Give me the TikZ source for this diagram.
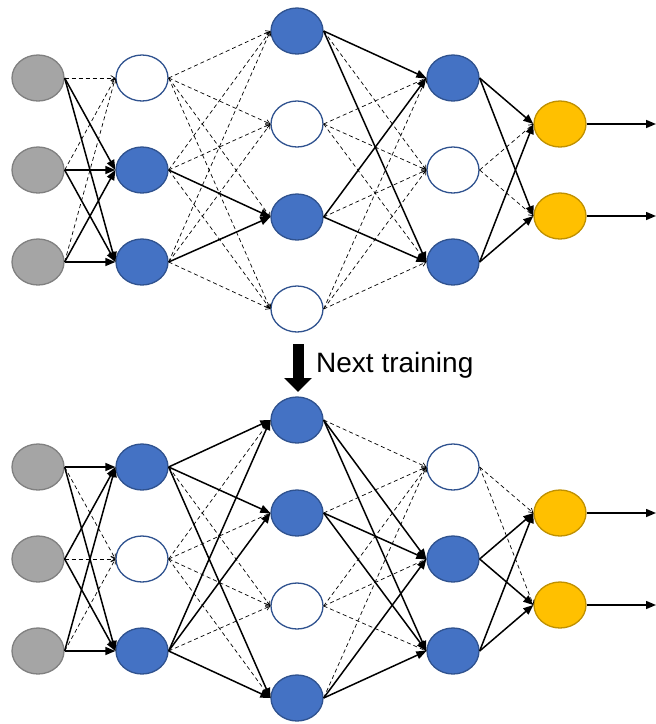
\documentclass[tikz,border=0pt]{standalone}
\usepackage{fontspec}
\setmainfont{Liberation Sans}
\usetikzlibrary{shapes.geometric,arrows.meta}
\definecolor{gfill}{HTML}{A5A5A5}
\definecolor{gline}{HTML}{808080}
\definecolor{bfill}{HTML}{4472C4}
\definecolor{bline}{HTML}{2F528F}
\definecolor{yfill}{HTML}{FFC000}
\definecolor{yline}{HTML}{BF9000}
\tikzset{
  neuron/.style={ellipse,minimum width=52pt,minimum height=46pt,inner sep=0pt,line width=1.3pt},
  gnode/.style={neuron,fill=gfill,draw=gline},
  bnode/.style={neuron,fill=bfill,draw=bline},
  wnode/.style={neuron,fill=white,draw=bline},
  ynode/.style={neuron,fill=yfill,draw=yline},
  sedge/.style={line width=1.5pt,-{Triangle[length=10pt,width=8pt]}},
  dedge/.style={line width=0.7pt,dash pattern=on 4pt off 3pt,-{Straight Barb[length=4pt,width=5pt]}},
}
\begin{document}
\begin{tikzpicture}[x=1pt,y=-1pt]
\useasboundingbox (0,0) rectangle (656,724);
% ---------- top network ----------
\node[gnode] (t01) at (38,78) {};
\node[gnode] (t02) at (38,170) {};
\node[gnode] (t03) at (38,262) {};
\node[wnode] (t11) at (142,78) {};
\node[bnode] (t12) at (142,170) {};
\node[bnode] (t13) at (142,262) {};
\node[bnode] (t21) at (297,31) {};
\node[wnode] (t22) at (297,124) {};
\node[bnode] (t23) at (297,217) {};
\node[wnode] (t24) at (297,309) {};
\node[bnode] (t31) at (453,78) {};
\node[wnode] (t32) at (453,170) {};
\node[bnode] (t33) at (453,262) {};
\node[ynode] (t41) at (560,124) {};
\node[ynode] (t42) at (560,216) {};
\coordinate (to1) at (656,124);
\coordinate (to2) at (656,216);
% solid
\foreach \i in {1,2,3} \foreach \j in {2,3} \draw[sedge] (t0\i.east) -- (t1\j.west);
\foreach \i in {2,3} \draw[sedge] (t1\i.east) -- (t23.west);
\foreach \i in {1,3} \foreach \j in {1,3} \draw[sedge] (t2\i.east) -- (t3\j.west);
\foreach \i in {1,3} \foreach \j in {1,2} \draw[sedge] (t3\i.east) -- (t4\j.west);
\draw[sedge] (t41.east) -- (to1);
\draw[sedge] (t42.east) -- (to2);
% dashed
\foreach \i in {1,2,3} \draw[dedge] (t0\i.east) -- (t11.west);
\foreach \j in {1,2,3,4} \draw[dedge] (t11.east) -- (t2\j.west);
\foreach \i in {2,3} \foreach \j in {1,2,4} \draw[dedge] (t1\i.east) -- (t2\j.west);
\foreach \i in {2,4} \foreach \j in {1,2,3} \draw[dedge] (t2\i.east) -- (t3\j.west);
\foreach \i in {1,3} \draw[dedge] (t2\i.east) -- (t32.west);
\foreach \j in {1,2} \draw[dedge] (t32.east) -- (t4\j.west);
% ---------- arrow and label ----------
\coordinate (ka) at (298,344);
\coordinate (kb) at (298,392);
\draw[line width=11pt,-{Triangle[length=14pt,width=27pt]}] (ka) -- (kb);
\node[anchor=base west,inner sep=0pt,font=\fontsize{28}{30}\selectfont] (lbl) at (316,372) {Next training};
% ---------- bottom network ----------
\node[gnode] (b01) at (38,467) {};
\node[gnode] (b02) at (38,559) {};
\node[gnode] (b03) at (38,651) {};
\node[bnode] (b11) at (142,467) {};
\node[wnode] (b12) at (142,559) {};
\node[bnode] (b13) at (142,651) {};
\node[bnode] (b21) at (297,420) {};
\node[bnode] (b22) at (297,513) {};
\node[wnode] (b23) at (297,606) {};
\node[bnode] (b24) at (297,698) {};
\node[wnode] (b31) at (453,467) {};
\node[bnode] (b32) at (453,559) {};
\node[bnode] (b33) at (453,651) {};
\node[ynode] (b41) at (560,513) {};
\node[ynode] (b42) at (560,605) {};
\coordinate (bo1) at (656,513);
\coordinate (bo2) at (656,605);
% solid
\foreach \i in {1,2,3} \foreach \j in {1,3} \draw[sedge] (b0\i.east) -- (b1\j.west);
\foreach \i in {1,3} \foreach \j in {1,2,4} \draw[sedge] (b1\i.east) -- (b2\j.west);
\foreach \i in {1,2,4} \foreach \j in {2,3} \draw[sedge] (b2\i.east) -- (b3\j.west);
\foreach \i in {2,3} \foreach \j in {1,2} \draw[sedge] (b3\i.east) -- (b4\j.west);
\draw[sedge] (b41.east) -- (bo1);
\draw[sedge] (b42.east) -- (bo2);
% dashed
\foreach \i in {1,2,3} \draw[dedge] (b0\i.east) -- (b12.west);
\foreach \j in {1,2,3,4} \draw[dedge] (b12.east) -- (b2\j.west);
\foreach \i in {1,3} \draw[dedge] (b1\i.east) -- (b23.west);
\foreach \j in {1,2,3} \draw[dedge] (b23.east) -- (b3\j.west);
\foreach \i in {1,2,4} \draw[dedge] (b2\i.east) -- (b31.west);
\foreach \j in {1,2} \draw[dedge] (b31.east) -- (b4\j.west);
\end{tikzpicture}
\end{document}
